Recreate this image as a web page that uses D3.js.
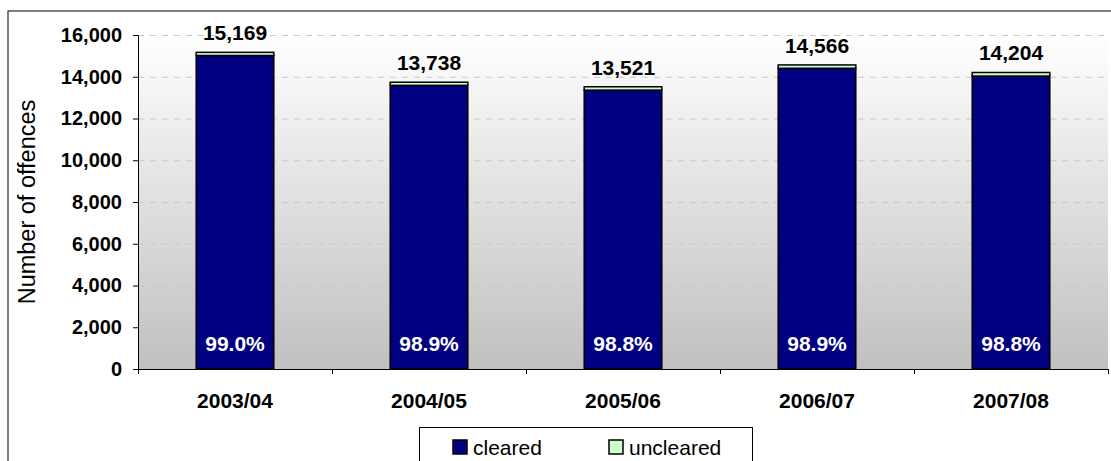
<!DOCTYPE html>
<html>
<head>
<meta charset="utf-8">
<script src="https://cdn.jsdelivr.net/npm/d3@7"></script>
<style>
  html, body { margin: 0; padding: 0; background: #fff; }
  svg { display: block; font-family: "Liberation Sans", Arial, sans-serif; }
</style>
</head>
<body>
<svg id="chart" width="1111" height="461"></svg>
<script>
// ---- data ----
const categories = ["2003/04", "2004/05", "2005/06", "2006/07", "2007/08"];
const cleared    = [15017, 13587, 13359, 14406, 14034];
const uncleared  = [152, 151, 162, 160, 170];
const totalLabels = ["15,169", "13,738", "13,521", "14,566", "14,204"];
const pctLabels   = ["99.0%", "98.9%", "98.8%", "98.9%", "98.8%"];
const yTicks = [0, 2000, 4000, 6000, 8000, 10000, 12000, 14000, 16000];
const seriesNames = ["cleared", "uncleared"];
const seriesColors = ["#000080", "#CCFFCC"];
const yTitle = "Number of offences";

// ---- layout ----
const svg = d3.select("#chart");
const W = 1111, H = 461;
const plot = { left: 138, right: 1108, top: 35, bottom: 369 };

// outer chart border
svg.append("rect").attr("x", 8).attr("y", 11).attr("width", W + 10).attr("height", H + 10)
  .attr("fill", "#fff").attr("stroke", "#000").attr("stroke-width", 1);

const x = d3.scaleBand().domain(categories).range([plot.left, plot.right])
  .paddingInner(0.6).paddingOuter(0.3);
const xEdge = d3.scaleLinear().domain([0, categories.length]).range([plot.left, plot.right]);
const y = d3.scaleLinear().domain([0, 16000]).range([plot.bottom, plot.top]);

// plot background gradient
const defs = svg.append("defs");
const grad = defs.append("linearGradient").attr("id", "bg").attr("x1", 0).attr("y1", 0).attr("x2", 0).attr("y2", 1);
grad.append("stop").attr("offset", "0%").attr("stop-color", "#ffffff");
grad.append("stop").attr("offset", "100%").attr("stop-color", "#c0c0c0");
svg.append("rect").attr("x", plot.left).attr("y", plot.top)
  .attr("width", plot.right - plot.left).attr("height", plot.bottom - plot.top)
  .attr("fill", "url(#bg)");

// gridlines
svg.append("g").selectAll("line").data(yTicks.filter(d => d > 0)).join("line")
  .attr("x1", plot.left).attr("x2", plot.right)
  .attr("y1", d => y(d) + 0.5).attr("y2", d => y(d) + 0.5)
  .attr("stroke", "#c8c8c8").attr("stroke-width", 1).attr("stroke-dasharray", "6,6");

// stacked bars
const rows = categories.map((c, i) => ({ cat: c, cleared: cleared[i], uncleared: uncleared[i] }));
const stack = d3.stack().keys(seriesNames)(rows);
svg.append("g").selectAll("g").data(stack).join("g")
  .attr("fill", (d, i) => seriesColors[i])
  .selectAll("rect").data(d => d).join("rect")
  .attr("x", d => x(d.data.cat))
  .attr("width", x.bandwidth())
  .attr("y", d => y(d[1]))
  .attr("height", d => y(d[0]) - y(d[1]))
  .attr("stroke", "#000").attr("stroke-width", 1.5);

// y axis
const yAxis = svg.append("g").attr("transform", `translate(${plot.left},0)`)
  .call(d3.axisLeft(y).tickValues(yTicks).tickFormat(d3.format(",")).tickSize(5).tickPadding(11));
yAxis.select(".domain").attr("stroke", "#000");
yAxis.selectAll("text").attr("font-size", 20).attr("font-weight", "bold").attr("fill", "#000")
  .attr("font-family", "Liberation Sans, Arial, sans-serif");

// x axis: edge ticks
const xTickAxis = svg.append("g").attr("transform", `translate(0,${plot.bottom})`)
  .call(d3.axisBottom(xEdge).tickValues(d3.range(categories.length + 1)).tickSize(5).tickFormat(""));
xTickAxis.select(".domain").attr("stroke", "#000");

// x axis: category labels
const xLab = svg.append("g").attr("transform", `translate(0,${plot.bottom})`)
  .call(d3.axisBottom(x).tickSize(0).tickPadding(24));
xLab.select(".domain").remove();
xLab.selectAll("text").attr("font-size", 21).attr("font-weight", "bold").attr("fill", "#000")
  .attr("font-family", "Liberation Sans, Arial, sans-serif");

// total labels
svg.append("g").selectAll("text").data(rows).join("text")
  .attr("x", d => x(d.cat) + x.bandwidth() / 2)
  .attr("y", d => y(d.cleared + d.uncleared) - 12)
  .attr("text-anchor", "middle").attr("font-size", 21).attr("font-weight", "bold")
  .text((d, i) => totalLabels[i]);

// percent labels
svg.append("g").selectAll("text").data(rows).join("text")
  .attr("x", d => x(d.cat) + x.bandwidth() / 2)
  .attr("y", y(0) - 18)
  .attr("text-anchor", "middle").attr("font-size", 21).attr("font-weight", "bold").attr("fill", "#fff")
  .text((d, i) => pctLabels[i]);

// y axis title
svg.append("text").attr("transform", `translate(35,${(plot.top + plot.bottom) / 2}) rotate(-90)`)
  .attr("text-anchor", "middle").attr("font-size", 23.5).text(yTitle);

// legend
const lg = svg.append("g");
lg.append("rect").attr("x", 419.5).attr("y", 427.5).attr("width", 333).attr("height", 60)
  .attr("fill", "#fff").attr("stroke", "#000").attr("stroke-width", 1);
const legendX = [453, 609];
seriesNames.forEach((name, i) => {
  lg.append("rect").attr("x", legendX[i]).attr("y", 440).attr("width", 14).attr("height", 14)
    .attr("fill", seriesColors[i]).attr("stroke", "#000").attr("stroke-width", 1.5);
  lg.append("text").attr("x", legendX[i] + 20).attr("y", 455).attr("font-size", 21).text(name);
});
</script>
</body>
</html>
